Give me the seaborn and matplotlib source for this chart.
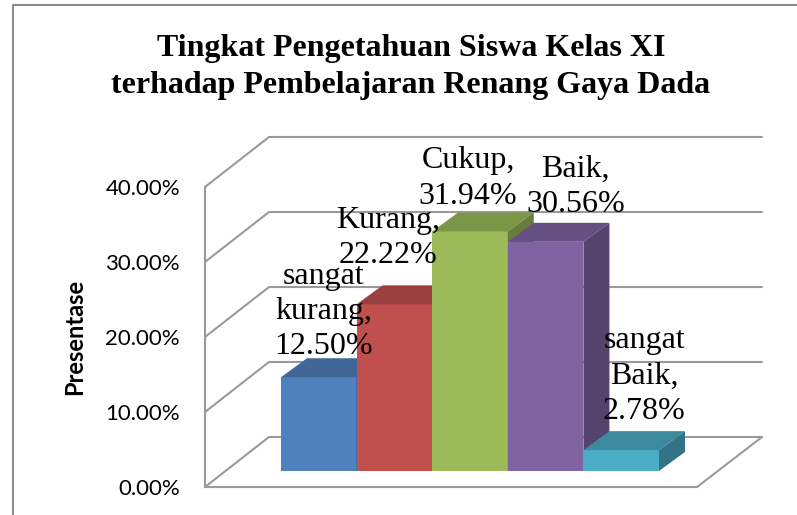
"""
Tingkat pengetahuan siswa - faux 3D column chart (Excel style)
"""
import pandas as pd
import matplotlib
matplotlib.use('Agg')
import matplotlib.pyplot as plt
from matplotlib.lines import Line2D
from matplotlib.patches import Polygon
from matplotlib.colors import to_rgb
import seaborn as sns

# Data
categories = ['sangat kurang', 'Kurang', 'Cukup', 'Baik', 'sangat Baik']
values = [12.50, 22.22, 31.94, 30.56, 2.78]
colors = ['#4F81BD', '#C0504D', '#9BBB59', '#8064A2', '#4BACC6']
y_ticks = [0, 10, 20, 30, 40]

# label offsets from the bar top centre, in pixels
label_dx = [5, -6, -2, 30, 23]
label_dy = [66, 66, 53, 55, 74]

W, H = 797, 515
GRAY = '#9a9a9a'

sns.set_theme(style='white')
plt.rcParams['font.family'] = ['Lato', 'DejaVu Sans']

fig = plt.figure(figsize=(W / 100, H / 100), dpi=100, facecolor='white')
ax = fig.add_axes([205 / W, (H - 487) / H, 492 / W, 300 / H])

df = pd.DataFrame({'group': ['all'] * len(values), 'category': categories, 'value': values})
sns.barplot(data=df, x='group', y='value', hue='category', hue_order=categories,
            palette=colors, saturation=1, width=378 / 492, legend=False, ax=ax)

ax.set_xlim(-0.5, 0.5)
ax.set_ylim(0, 40)
px_x = 1 / 492
px_y = 40 / 300


def shift(x, y, dx, dy):
    # move a data point by a number of screen pixels
    return x + dx * px_x, y + dy * px_y


# side walls and floor
for t in y_ticks:
    x0, y0 = -0.5, t
    x1, y1 = shift(x0, y0, 64, 50)
    x2, y2 = shift(0.5, y0, 65, 50)
    ax.plot([x0, x1, x2], [y0, y1, y2], color=GRAY, lw=1.5, clip_on=False, zorder=1)
xa, ya = shift(0.5, 0, 65, 50)
ax.plot([0.5, xa], [0, ya], color=GRAY, lw=1.5, clip_on=False, zorder=1)

# bars: push into the floor and add top and side faces
base_dx, base_dy = 19, 16
depth_dx, depth_dy = 26, 19
for i, (bar, value, color) in enumerate(zip(ax.patches, values, colors)):
    left, base = shift(bar.get_x(), 0, base_dx, base_dy)
    width = bar.get_width()
    bar.set_x(left)
    bar.set_y(base)
    bar.set_clip_on(False)
    bar.set_zorder(3 + i)
    bar.set_linewidth(0)
    top = base + value
    right = left + width
    back_l = shift(left, top, depth_dx, depth_dy)
    back_r = shift(right, top, depth_dx, depth_dy)
    back_b = shift(right, base, depth_dx, depth_dy)
    rgb = to_rgb(color)
    ax.add_patch(Polygon([(left, top), back_l, back_r, (right, top)], closed=True, lw=0,
                         facecolor=[c * 0.8 for c in rgb], clip_on=False, zorder=3 + i))
    ax.add_patch(Polygon([(right, base), back_b, back_r, (right, top)], closed=True, lw=0,
                         facecolor=[c * 0.67 for c in rgb], clip_on=False, zorder=3 + i))

# data labels
for bar, name, value, dx, dy in zip(ax.patches, categories, values, label_dx, label_dy):
    text = f"{name.replace(' ', chr(10))},\n{value:.2f}%"
    ax.annotate(text, (bar.get_x() + bar.get_width() / 2, bar.get_y() + value),
                xytext=(dx, dy), textcoords='offset pixels', ha='center', va='center',
                family='Liberation Serif', fontsize=23, color='black', linespacing=1.28,
                annotation_clip=False, zorder=20)

# axis
ax.set_yticks(y_ticks)
ax.set_yticklabels([f'{t:.2f}%' for t in y_ticks], fontsize=16, color='black')
ax.tick_params(axis='y', length=0, pad=18)
ax.set_xticks([])
ax.set_xlabel('')
ax.set_ylabel('Presentase', fontsize=17, fontweight='bold', color='black', labelpad=0)
ax.yaxis.set_label_coords((86 - 205) / 492, 0.5)
sns.despine(ax=ax, top=True, right=True)
for side in ['left', 'bottom']:
    ax.spines[side].set_color(GRAY)
    ax.spines[side].set_linewidth(1.5)

fig.text(411 / W, 1 - 67 / H, 'Tingkat Pengetahuan Siswa Kelas XI\nterhadap Pembelajaran Renang Gaya Dada',
         ha='center', va='center', family='Liberation Serif', fontsize=23, fontweight='bold',
         color='black', linespacing=1.4)

# chart frame, runs off the image on the right and bottom
fig.add_artist(Line2D([13 / W, 13 / W, 1], [0, 1 - 5 / H, 1 - 5 / H], color='#8c8c8c', lw=1.5))

plt.savefig('out.png', dpi=100)
